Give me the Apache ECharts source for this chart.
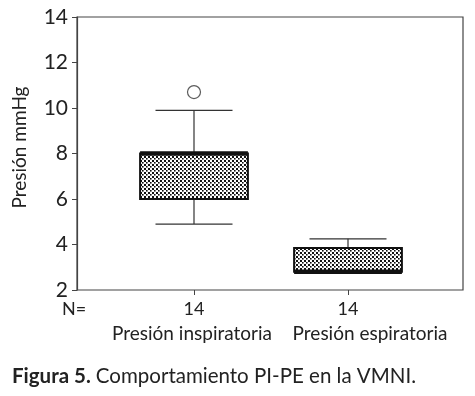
<!DOCTYPE html>
<html><head><meta charset="utf-8">
<script src="https://cdn.jsdelivr.net/npm/echarts@6/dist/echarts.min.js"></script>
<style>html,body{margin:0;padding:0;background:#fff}#c{width:475px;height:396px}</style>
</head><body><div id="c"></div>
<script>
// ---- data ----
const categories = ['Presión inspiratoria', 'Presión espiratoria'];
const nCounts = [14, 14];
const lowerWhisker = [4.9, 2.8];
const q1 = [6.0, 2.8];
const median = [8.0, 2.8];
const q3 = [8.0, 3.85];
const upperWhisker = [9.9, 4.25];
const outliers = [[0, 10.7]];
const yTicks = [2, 4, 6, 8, 10, 12, 14];

const FONT = 'Lato';
const boxData = categories.map((c, i) => [i, lowerWhisker[i], q1[i], median[i], q3[i], upperWhisker[i]]);

// stipple pattern
const pc = document.createElement('canvas');
pc.width = 4; pc.height = 4;
const pctx = pc.getContext('2d');
pctx.fillStyle = '#fff'; pctx.fillRect(0, 0, 4, 4);
pctx.fillStyle = '#111';
pctx.fillRect(0, 0, 2, 2);
pctx.fillRect(2, 2, 1.6, 1.6);

const chart = echarts.init(document.getElementById('c'), null, {renderer: 'canvas'});
chart.setOption({
  backgroundColor: '#fff',
  animation: false,
  title: {
    left: 12, top: 366, padding: 0,
    text: '{b|Figura 5.} {r|Comportamiento PI-PE en la VMNI.}',
    textStyle: {
      fontWeight: 'normal',
      rich: {
        b: {fontFamily: FONT, fontWeight: 'bold', fontSize: 20.5, color: '#222'},
        r: {fontFamily: FONT, fontWeight: 'normal', fontSize: 20.5, color: '#222'}
      }
    }
  },
  grid: [
    {left: 77, top: 17, right: 12, bottom: 106, show: true, borderColor: '#444', borderWidth: 1.2, backgroundColor: 'transparent'},
    {left: 117, top: 17, width: 308, bottom: 106}
  ],
  xAxis: [
    {gridIndex: 0, type: 'value', min: 0, max: 1, show: false},
    {gridIndex: 1, type: 'category', data: categories, boundaryGap: true,
     axisLine: {show: false},
     axisTick: {show: true, alignWithLabel: true, length: 5, lineStyle: {color: '#444', width: 1}},
     axisLabel: {
       interval: 0, hideOverlap: false,
       margin: 8,
       formatter: (v, i) => i === 0
         ? '{n|' + nCounts[i] + '}\n{c|' + v + '}'
         : '{n|' + nCounts[i] + '}\n{c2|' + v + '}',
       rich: {
         n: {fontFamily: FONT, fontSize: 18, color: '#222', lineHeight: 22},
         c: {fontFamily: FONT, fontSize: 19, color: '#222', lineHeight: 28, padding: [0, 4, 0, 0]},
         c2: {fontFamily: FONT, fontSize: 19, color: '#222', lineHeight: 28, padding: [0, 0, 0, 44]}
       }
     }}
  ],
  yAxis: [
    {gridIndex: 0, type: 'value', min: 2, max: 14, interval: 2,
     name: 'Presión mmHg', nameLocation: 'middle', nameRotate: 90, nameGap: 48,
     nameTextStyle: {fontFamily: FONT, fontSize: 19, color: '#222', padding: [0, 0, 0, 12]},
     axisLine: {show: true, lineStyle: {color: '#444', width: 1.2}},
     axisTick: {show: true, length: 5, lineStyle: {color: '#444'}},
     splitLine: {show: false},
     axisLabel: {margin: 9, fontFamily: FONT, fontSize: 21, color: '#222',
       formatter: v => yTicks.includes(v) ? String(v) : ''}},
    {gridIndex: 1, type: 'value', min: 2, max: 14, show: false}
  ],
  graphic: [
    {type: 'text', left: 62, top: 300, style: {text: 'N=', fontFamily: FONT, fontSize: 18, fill: '#222'}}
  ],
  series: [
    {
      type: 'custom', xAxisIndex: 1, yAxisIndex: 1, data: boxData,
      encode: {x: 0, y: [1, 2, 3, 4, 5]},
      renderItem: function (params, api) {
        const idx = api.value(0);
        const band = api.size([1, 0])[0];
        const bw = band * 0.70, cw = band * 0.5;
        const pLow = api.coord([idx, api.value(1)]);
        const pQ1 = api.coord([idx, api.value(2)]);
        const pMed = api.coord([idx, api.value(3)]);
        const pQ3 = api.coord([idx, api.value(4)]);
        const pHigh = api.coord([idx, api.value(5)]);
        const cx = pLow[0];
        const ls = {stroke: '#333', lineWidth: 1.2};
        const ch = [];
        ch.push({type: 'line', shape: {x1: cx, y1: pQ3[1], x2: cx, y2: pHigh[1]}, style: ls});
        ch.push({type: 'line', shape: {x1: cx, y1: pQ1[1], x2: cx, y2: pLow[1]}, style: ls});
        ch.push({type: 'line', shape: {x1: cx - cw / 2, y1: pHigh[1], x2: cx + cw / 2, y2: pHigh[1]}, style: ls});
        ch.push({type: 'line', shape: {x1: cx - cw / 2, y1: pLow[1], x2: cx + cw / 2, y2: pLow[1]}, style: ls});
        ch.push({type: 'rect', shape: {x: cx - bw / 2, y: pQ3[1], width: bw, height: pQ1[1] - pQ3[1]},
          style: {fill: {image: pc, repeat: 'repeat'}, stroke: '#111', lineWidth: 2}});
        ch.push({type: 'line', shape: {x1: cx - bw / 2, y1: pMed[1], x2: cx + bw / 2, y2: pMed[1]},
          style: {stroke: '#111', lineWidth: 4.5}});
        return {type: 'group', children: ch};
      }
    },
    {
      type: 'scatter', xAxisIndex: 1, yAxisIndex: 1, data: outliers,
      symbol: 'circle', symbolSize: 13,
      itemStyle: {color: '#fff', borderColor: '#333', borderWidth: 1.2}
    }
  ]
});
</script></body></html>
